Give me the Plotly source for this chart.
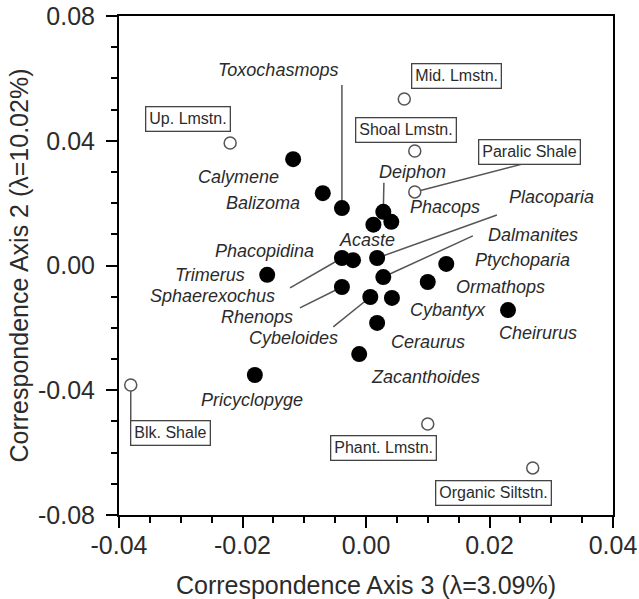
import plotly.graph_objects as go

# ---------------- data ----------------
genera = ["Calymene", "Balizoma", "Toxochasmops", "Deiphon", "Phacops", "Acaste",
          "Phacopidina", "Sphaerexochus", "Placoparia", "Dalmanites", "Ptychoparia",
          "Ormathops", "Rhenops", "Cybeloides", "Cybantyx", "Cheirurus", "Ceraurus",
          "Zacanthoides", "Trimerus", "Pricyclopyge"]
genus_ax3 = [-0.0118, -0.0070, -0.0039, 0.0028, 0.0041, 0.0012,
             -0.0021, -0.0039, 0.0018, 0.0028, 0.0130,
             0.0100, -0.0039, 0.0007, 0.0042, 0.0230, 0.0018,
             -0.0011, -0.0160, -0.0180]
genus_ax2 = [0.0341, 0.0232, 0.0184, 0.0172, 0.0140, 0.0131,
             0.0017, 0.0024, 0.0024, -0.0037, 0.0005,
             -0.0053, -0.0069, -0.0101, -0.0104, -0.0143, -0.0184,
             -0.0284, -0.0030, -0.0351]

envs = ["Up. Lmstn.", "Mid. Lmstn.", "Shoal Lmstn.", "Paralic Shale",
        "Blk. Shale", "Phant. Lmstn.", "Organic Siltstn."]
env_ax3 = [-0.0220, 0.0062, 0.0079, 0.0079, -0.0381, 0.0100, 0.0270]
env_ax2 = [0.0393, 0.0534, 0.0367, 0.0236, -0.0383, -0.0508, -0.0649]

x_tickvals = [-0.04, -0.02, 0.00, 0.02, 0.04]
x_ticktext = ["-0.04", "-0.02", "0.00", "0.02", "0.04"]
y_tickvals = [-0.08, -0.04, 0.00, 0.04, 0.08]
y_ticktext = ["-0.08", "-0.04", "0.00", "0.04", "0.08"]

# ---------------- label layout (annotation placement) ----------------
genus_label_pos = {
    "Toxochasmops": (-0.01425, 0.0627), "Calymene": (-0.0207, 0.0284),
    "Balizoma": (-0.0167, 0.0200), "Deiphon": (0.0076, 0.0300),
    "Phacops": (0.0128, 0.0188), "Placoparia": (0.0301, 0.0220),
    "Acaste": (0.0002, 0.0082), "Dalmanites": (0.0270, 0.0098),
    "Phacopidina": (-0.0164, 0.0045), "Ptychoparia": (0.0254, 0.0018),
    "Trimerus": (-0.0253, -0.0030), "Ormathops": (0.0217, -0.0069),
    "Sphaerexochus": (-0.0248, -0.0098), "Rhenops": (-0.0177, -0.0165),
    "Cybantyx": (0.0133, -0.0143), "Cheirurus": (0.0279, -0.0216),
    "Cybeloides": (-0.0118, -0.0233), "Ceraurus": (0.0100, -0.0245),
    "Zacanthoides": (0.0096, -0.0357), "Pricyclopyge": (-0.0185, -0.0431),
}
genus_leader_start = {
    "Toxochasmops": (-0.0039, 0.0579), "Deiphon": (0.0029, 0.0265),
    "Placoparia": (0.0212, 0.0162), "Dalmanites": (0.0173, 0.0095),
    "Sphaerexochus": (-0.0123, -0.0072), "Rhenops": (-0.0107, -0.0136),
    "Cybeloides": (-0.0053, -0.0197),
}
env_label_pos = {
    "Up. Lmstn.": (-0.0288, 0.0470), "Mid. Lmstn.": (0.0147, 0.0608),
    "Shoal Lmstn.": (0.0065, 0.0434), "Paralic Shale": (0.0264, 0.0364),
    "Blk. Shale": (-0.0317, -0.0537), "Phant. Lmstn.": (0.0028, -0.0585),
    "Organic Siltstn.": (0.0206, -0.0729),
}
env_leader_start = {
    "Paralic Shale": (0.0261, 0.0329), "Blk. Shale": (-0.0381, -0.0502),
}

FONT = "Liberation Sans, Arial, sans-serif"
TXT = "#2b2b2b"

fig = go.Figure()

shapes = []
for name, (lx, ly) in genus_leader_start.items():
    i = genera.index(name)
    shapes.append(dict(type="line", xref="x", yref="y", x0=lx, y0=ly,
                       x1=genus_ax3[i], y1=genus_ax2[i], layer="below",
                       line=dict(color="#555555", width=1.5)))
for name, (lx, ly) in env_leader_start.items():
    i = envs.index(name)
    shapes.append(dict(type="line", xref="x", yref="y", x0=lx, y0=ly,
                       x1=env_ax3[i], y1=env_ax2[i], layer="below",
                       line=dict(color="#555555", width=1.5)))

fig.add_trace(go.Scatter(x=env_ax3, y=env_ax2, mode="markers", text=envs,
                         marker=dict(size=12, color="white", symbol="circle",
                                     line=dict(color="#555555", width=1.5)),
                         showlegend=False, hoverinfo="text"))
fig.add_trace(go.Scatter(x=genus_ax3, y=genus_ax2, mode="markers", text=genera,
                         marker=dict(size=16, color="black", line=dict(width=0)),
                         showlegend=False, hoverinfo="text"))

annotations = []
for name in genera:
    lx, ly = genus_label_pos[name]
    annotations.append(dict(x=lx, y=ly, xref="x", yref="y", text=name,
                            showarrow=False, xanchor="center", yanchor="middle",
                            borderpad=0,
                            font=dict(family=FONT, size=18, color=TXT, style="italic")))
for name in envs:
    lx, ly = env_label_pos[name]
    annotations.append(dict(x=lx, y=ly, xref="x", yref="y", text=name,
                            showarrow=False, xanchor="center", yanchor="middle",
                            bgcolor="white", bordercolor="#444444", borderwidth=1.3,
                            borderpad=3,
                            font=dict(family=FONT, size=16, color=TXT)))

fig.update_layout(
    width=639, height=599,
    margin=dict(l=119, r=26, t=16, b=84, autoexpand=False),
    paper_bgcolor="white", plot_bgcolor="white",
    font=dict(family=FONT, color=TXT),
    shapes=shapes, annotations=annotations,
    xaxis=dict(range=[-0.04, 0.04], tickvals=x_tickvals, ticktext=x_ticktext,
               automargin=False, ticklabeloverflow="allow",
               showgrid=False, zeroline=False, showline=True, linecolor="black",
               linewidth=2, mirror=True, ticks="outside", ticklen=11, tickwidth=2,
               tickcolor="black", tickfont=dict(size=25, color=TXT),
               ticklabelstandoff=-4,
               minor=dict(dtick=0.005, ticks="outside", ticklen=6, tickwidth=2,
                          tickcolor="black", showgrid=False),
               title=dict(text="Correspondence Axis 3 (λ=3.09%)",
                          font=dict(size=25, color=TXT), standoff=22)),
    yaxis=dict(range=[-0.08, 0.08], tickvals=y_tickvals, ticktext=y_ticktext,
               automargin=False, ticklabeloverflow="allow",
               showgrid=False, zeroline=False, showline=True, linecolor="black",
               linewidth=2, mirror=True, ticks="outside", ticklen=11, tickwidth=2,
               tickcolor="black", tickfont=dict(size=25, color=TXT),
               ticklabelstandoff=6,
               minor=dict(dtick=0.01, ticks="outside", ticklen=6, tickwidth=2,
                          tickcolor="black", showgrid=False),
               title=dict(text="Correspondence Axis 2 (λ=10.02%)",
                          font=dict(size=25, color=TXT), standoff=2)),
)

# remove the default 8px page margin so the figure sits at the window origin
fig.write_html("out.html", config={"displayModeBar": False},
               post_script="document.body.style.margin='0';")
